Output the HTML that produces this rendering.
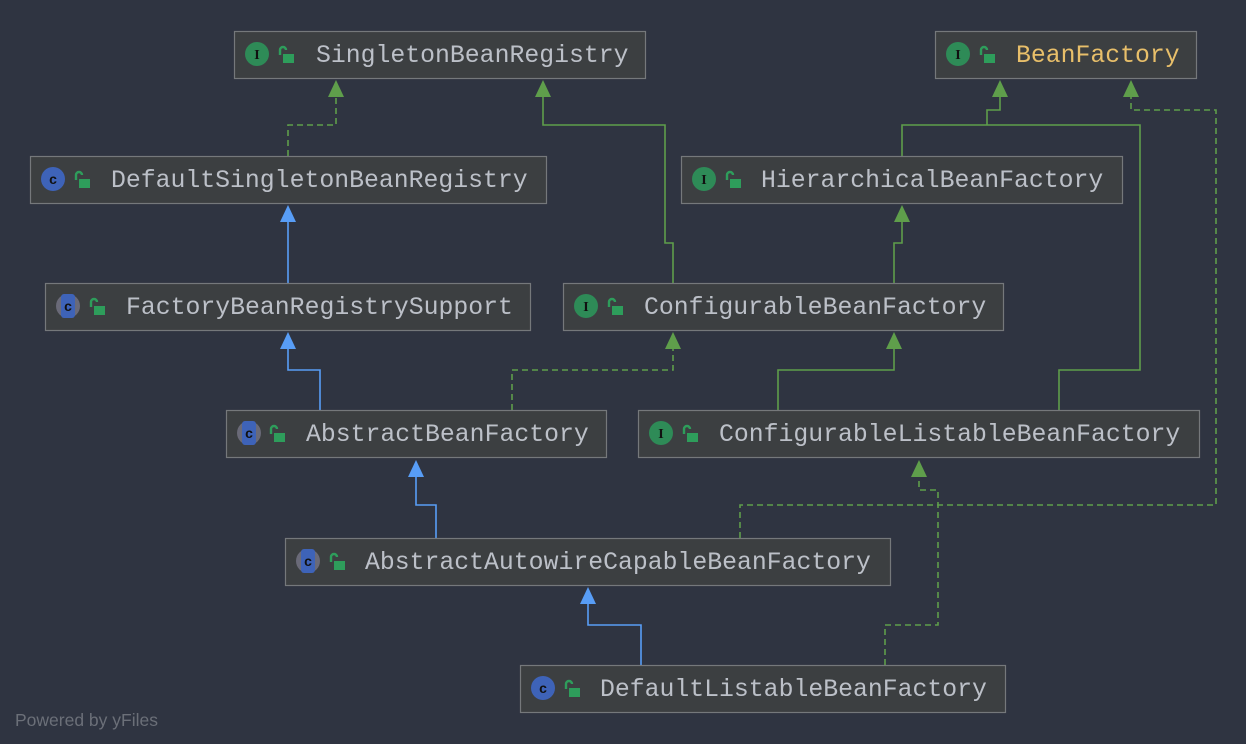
<!DOCTYPE html>
<html><head><meta charset="utf-8"><style>
html,body{margin:0;padding:0;background:#2f3441;}
svg{display:block}
.t{font-family:"Liberation Mono","DejaVu Sans Mono",monospace;font-size:24.8px;fill:#bcc0c8}
</style></head><body>
<svg width="1246" height="744" viewBox="0 0 1246 744" xmlns="http://www.w3.org/2000/svg">
<rect width="1246" height="744" fill="#2f3441"/>
<defs>
<g id="lock"><path d="M-5 -1 v-5 a3 3 0 0 1 6 0" fill="none" stroke="#2e9d5b" stroke-width="2.4"/><rect x="-2" y="-2" width="11" height="9" fill="#2e9d5b"/></g>
</defs>
<g fill="none" stroke-width="1.6">
<g stroke="#5f9e4b">
<polyline points="673,283 673,243 665,243 665,125 543,125 543,95"/>
<polyline points="902,156 902,125 1140,125 1140,370 1059,370 1059,410"/>
<polyline points="987,125 987,110 1000,110 1000,95"/>
<polyline points="778,410 778,370 894,370 894,347"/>
<polyline points="894,283 894,243 902,243 902,220"/>
</g>
<g stroke="#5f9e4b" stroke-dasharray="6,4">
<polyline points="288,156 288,125 336,125 336,95"/>
<polyline points="512,410 512,370 673,370 673,347"/>
<polyline points="740,538 740,505 1216,505 1216,110 1131,110 1131,95"/>
<polyline points="885,665 885,625 938,625 938,490 919,490 919,475"/>
</g>
<g stroke="#589df6">
<polyline points="288,283 288,220"/>
<polyline points="320,410 320,370 288,370 288,347"/>
<polyline points="436,538 436,505 416,505 416,475"/>
<polyline points="641,665 641,625 588,625 588,602"/>
</g>
</g>
<g fill="#5f9e4b">
<polygon points="336,80 328,97 344,97"/>
<polygon points="543,80 535,97 551,97"/>
<polygon points="1000,80 992,97 1008,97"/>
<polygon points="1131,80 1123,97 1139,97"/>
<polygon points="902,205 894,222 910,222"/>
<polygon points="673,332 665,349 681,349"/>
<polygon points="894,332 886,349 902,349"/>
<polygon points="919,460 911,477 927,477"/>
</g>
<g fill="#589df6">
<polygon points="288,205 280,222 296,222"/>
<polygon points="288,332 280,349 296,349"/>
<polygon points="416,460 408,477 424,477"/>
<polygon points="588,587 580,604 596,604"/>
</g>
<g fill="#3c3f41" stroke="#75787b" stroke-width="1.2">
<rect x="234.5" y="31.5" width="411" height="47"/>
<rect x="935.5" y="31.5" width="261" height="47"/>
<rect x="30.5" y="156.5" width="516" height="47"/>
<rect x="681.5" y="156.5" width="441" height="47"/>
<rect x="45.5" y="283.5" width="485" height="47"/>
<rect x="563.5" y="283.5" width="440" height="47"/>
<rect x="226.5" y="410.5" width="380" height="47"/>
<rect x="638.5" y="410.5" width="561" height="47"/>
<rect x="285.5" y="538.5" width="605" height="47"/>
<rect x="520.5" y="665.5" width="485" height="47"/>
</g>
<g font-family="Liberation Serif,serif" font-weight="bold" font-size="14" text-anchor="middle">
<g><circle cx="257" cy="54" r="12" fill="#2e8b57"/><text x="257" y="59" fill="#111">I</text></g>
<g><circle cx="958" cy="54" r="12" fill="#2e8b57"/><text x="958" y="59" fill="#111">I</text></g>
<g><circle cx="704" cy="179" r="12" fill="#2e8b57"/><text x="704" y="184" fill="#111">I</text></g>
<g><circle cx="586" cy="306" r="12" fill="#2e8b57"/><text x="586" y="311" fill="#111">I</text></g>
<g><circle cx="661" cy="433" r="12" fill="#2e8b57"/><text x="661" y="438" fill="#111">I</text></g>
</g>
<g font-family="Liberation Sans,sans-serif" font-weight="bold" font-size="14" text-anchor="middle">
<g><circle cx="53" cy="179" r="12" fill="#3e63b8"/><text x="53" y="184" fill="#111">c</text></g>
<g><circle cx="543" cy="688" r="12" fill="#3e63b8"/><text x="543" y="693" fill="#111">c</text></g>
<g><circle cx="68" cy="306" r="12" fill="#6a6a78"/><rect x="61" y="294" width="14" height="24" rx="3" fill="#3e63b8"/><text x="68" y="311" fill="#111">c</text></g>
<g><circle cx="249" cy="433" r="12" fill="#6a6a78"/><rect x="242" y="421" width="14" height="24" rx="3" fill="#3e63b8"/><text x="249" y="438" fill="#111">c</text></g>
<g><circle cx="308" cy="561" r="12" fill="#6a6a78"/><rect x="301" y="549" width="14" height="24" rx="3" fill="#3e63b8"/><text x="308" y="566" fill="#111">c</text></g>
</g>
<use href="#lock" x="285" y="56"/>
<use href="#lock" x="986" y="56"/>
<use href="#lock" x="81" y="181"/>
<use href="#lock" x="732" y="181"/>
<use href="#lock" x="96" y="308"/>
<use href="#lock" x="614" y="308"/>
<use href="#lock" x="276" y="435"/>
<use href="#lock" x="689" y="435"/>
<use href="#lock" x="336" y="563"/>
<use href="#lock" x="571" y="690"/>
<text class="t" x="316" y="62">SingletonBeanRegistry</text>
<text class="t" x="1016" y="62" style="fill:#e8bf6a">BeanFactory</text>
<text class="t" x="111" y="187">DefaultSingletonBeanRegistry</text>
<text class="t" x="761" y="187">HierarchicalBeanFactory</text>
<text class="t" x="126" y="314">FactoryBeanRegistrySupport</text>
<text class="t" x="644" y="314">ConfigurableBeanFactory</text>
<text class="t" x="306" y="441">AbstractBeanFactory</text>
<text class="t" x="719" y="441">ConfigurableListableBeanFactory</text>
<text class="t" x="365" y="569">AbstractAutowireCapableBeanFactory</text>
<text class="t" x="600" y="696">DefaultListableBeanFactory</text>
<text x="15" y="726" font-family="Liberation Sans,sans-serif" font-size="17.5" fill="#6b6f78">Powered by yFiles</text>
</svg>
</body></html>
